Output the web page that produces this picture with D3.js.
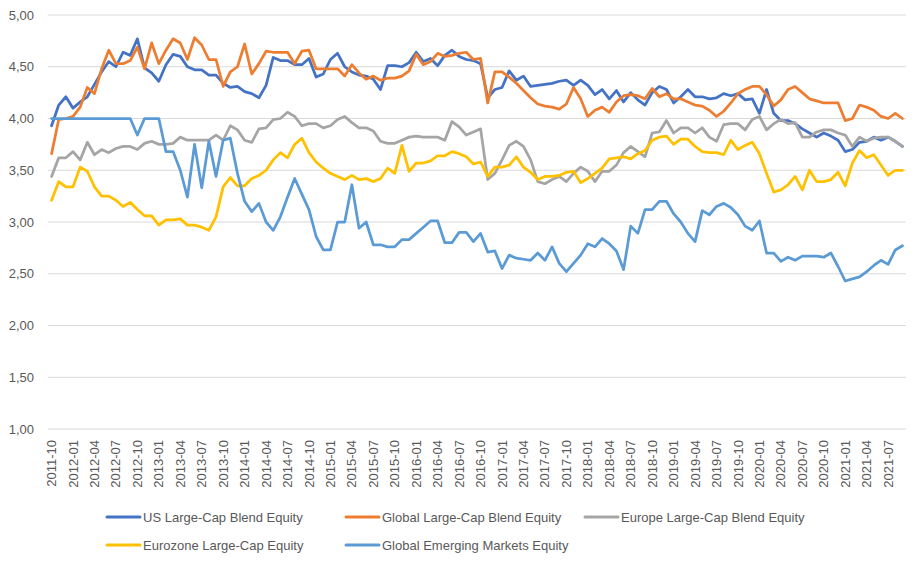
<!DOCTYPE html>
<html>
<head>
<meta charset="utf-8">
<script src="https://cdn.jsdelivr.net/npm/d3@7"></script>
<style>
  body { margin: 0; background: #fff; }
  text { font-family: "Liberation Sans", Arial, sans-serif; fill: #595959; }
</style>
</head>
<body>
<div id="chart"></div>
<script>
// monthly categories, 2011-10 .. 2021-09
const months = d3.utcMonth.range(new Date(Date.UTC(2011, 9, 1)), new Date(Date.UTC(2021, 9, 1)))
  .map(d3.utcFormat("%Y-%m"));

const yTicks = [1, 1.5, 2, 2.5, 3, 3.5, 4, 4.5, 5];

const seriesNames = [
  "US Large-Cap Blend Equity",
  "Global Large-Cap Blend Equity",
  "Europe Large-Cap Blend Equity",
  "Eurozone Large-Cap Equity",
  "Global Emerging Markets Equity"
];
const seriesColors = ["#4472C4", "#ED7D31", "#A5A5A5", "#FFC000", "#5B9BD5"];

const usBlend = [
  3.93, 4.13, 4.21, 4.10, 4.16, 4.21, 4.33, 4.45, 4.55, 4.50,
  4.64, 4.61, 4.77, 4.49, 4.44, 4.36, 4.52, 4.62, 4.60, 4.50,
  4.47, 4.47, 4.42, 4.42, 4.34, 4.30, 4.31, 4.26, 4.24, 4.20,
  4.32, 4.59, 4.56, 4.56, 4.52, 4.52, 4.58, 4.40, 4.43, 4.57,
  4.63, 4.50, 4.45, 4.42, 4.41, 4.38, 4.28, 4.51, 4.51, 4.50,
  4.54, 4.64, 4.55, 4.58, 4.51, 4.61, 4.66, 4.60, 4.57, 4.56,
  4.53, 4.20, 4.28, 4.30, 4.46, 4.37, 4.41, 4.31, 4.32, 4.33,
  4.34, 4.36, 4.37, 4.32, 4.37, 4.32, 4.23, 4.28, 4.19, 4.27,
  4.16, 4.25, 4.18, 4.13, 4.25, 4.31, 4.28, 4.15, 4.21, 4.28,
  4.21, 4.21, 4.19, 4.20, 4.24, 4.22, 4.24, 4.18, 4.19, 4.05,
  4.28, 4.05, 3.98, 3.98, 3.95, 3.90, 3.86, 3.82, 3.86, 3.83,
  3.79, 3.68, 3.70, 3.77, 3.78, 3.82, 3.79, 3.82, 3.78, 3.73
];

const globalBlend = [
  3.66, 3.99, 4.00, 4.02, 4.11, 4.30, 4.24, 4.48, 4.66, 4.53,
  4.53, 4.56, 4.69, 4.48, 4.73, 4.53, 4.66, 4.77, 4.73, 4.57,
  4.78, 4.71, 4.57, 4.57, 4.31, 4.45, 4.50, 4.72, 4.43, 4.53,
  4.65, 4.64, 4.64, 4.64, 4.53, 4.65, 4.66, 4.48, 4.48, 4.48,
  4.48, 4.41, 4.52, 4.44, 4.38, 4.41, 4.37, 4.39, 4.39, 4.41,
  4.46, 4.62, 4.52, 4.55, 4.63, 4.60, 4.61, 4.63, 4.64, 4.57,
  4.58, 4.15, 4.45, 4.45, 4.40, 4.34, 4.27, 4.20, 4.14, 4.12,
  4.11, 4.09, 4.14, 4.30, 4.19, 4.02, 4.08, 4.11, 4.06, 4.16,
  4.22, 4.23, 4.22, 4.19, 4.29, 4.21, 4.24, 4.19, 4.19, 4.16,
  4.13, 4.12, 4.08, 4.02, 4.07, 4.15, 4.24, 4.28, 4.31, 4.31,
  4.23, 4.12, 4.18, 4.28, 4.31, 4.25, 4.19, 4.17, 4.15, 4.15,
  4.15, 3.98, 4.00, 4.13, 4.11, 4.08, 4.02, 4.00, 4.05, 4.00
];

const europeBlend = [
  3.44, 3.62, 3.62, 3.68, 3.60, 3.77, 3.65, 3.70, 3.67, 3.71,
  3.73, 3.73, 3.70, 3.76, 3.78, 3.75, 3.75, 3.76, 3.82, 3.79,
  3.79, 3.79, 3.79, 3.84, 3.79, 3.93, 3.89, 3.79, 3.77, 3.90,
  3.91, 3.99, 4.00, 4.06, 4.02, 3.93, 3.95, 3.95, 3.91, 3.93,
  3.99, 4.02, 3.96, 3.91, 3.91, 3.88, 3.78, 3.76, 3.76, 3.79,
  3.82, 3.83, 3.82, 3.82, 3.82, 3.79, 3.97, 3.92, 3.84, 3.87,
  3.90, 3.41, 3.47, 3.60, 3.74, 3.78, 3.73, 3.60, 3.39, 3.37,
  3.41, 3.44, 3.39, 3.47, 3.53, 3.49, 3.39, 3.49, 3.49, 3.55,
  3.67, 3.73, 3.68, 3.63, 3.86, 3.87, 3.98, 3.86, 3.91, 3.91,
  3.86, 3.91, 3.82, 3.78, 3.94, 3.95, 3.95, 3.89, 3.99, 4.02,
  3.89, 3.95, 3.99, 3.95, 3.96, 3.82, 3.82, 3.87, 3.89, 3.89,
  3.86, 3.84, 3.73, 3.82, 3.78, 3.81, 3.82, 3.82, 3.78, 3.73
];

const eurozone = [
  3.21, 3.39, 3.34, 3.34, 3.53, 3.49, 3.34, 3.25, 3.25, 3.21,
  3.15, 3.19, 3.12, 3.06, 3.06, 2.97, 3.02, 3.02, 3.03, 2.97,
  2.97, 2.95, 2.92, 3.05, 3.34, 3.43, 3.35, 3.35, 3.42, 3.45,
  3.50, 3.60, 3.67, 3.62, 3.75, 3.81, 3.67, 3.58, 3.52, 3.47,
  3.44, 3.41, 3.45, 3.41, 3.42, 3.39, 3.42, 3.52, 3.47, 3.74,
  3.49, 3.57, 3.57, 3.59, 3.64, 3.64, 3.68, 3.66, 3.63, 3.56,
  3.58, 3.44, 3.53, 3.53, 3.55, 3.63, 3.53, 3.48, 3.41, 3.44,
  3.44, 3.45, 3.48, 3.49, 3.38, 3.42, 3.47, 3.52, 3.61, 3.62,
  3.63, 3.61, 3.66, 3.69, 3.79, 3.82, 3.83, 3.75, 3.80, 3.80,
  3.73, 3.68, 3.67, 3.67, 3.65, 3.79, 3.70, 3.74, 3.77, 3.66,
  3.47, 3.29, 3.31, 3.36, 3.44, 3.31, 3.50, 3.39, 3.39, 3.41,
  3.48, 3.35, 3.57, 3.69, 3.62, 3.65, 3.55, 3.45, 3.50, 3.50
];

const emerging = [
  4.00, 4.00, 4.00, 4.00, 4.00, 4.00, 4.00, 4.00, 4.00, 4.00,
  4.00, 4.00, 3.84, 4.00, 4.00, 4.00, 3.68, 3.68, 3.50, 3.24,
  3.75, 3.33, 3.78, 3.44, 3.79, 3.81, 3.47, 3.20, 3.10, 3.18,
  3.00, 2.92, 3.05, 3.24, 3.42, 3.27, 3.12, 2.86, 2.73, 2.73,
  3.00, 3.00, 3.36, 2.94, 3.00, 2.78, 2.78, 2.76, 2.76, 2.83,
  2.83, 2.89, 2.95, 3.01, 3.01, 2.80, 2.80, 2.90, 2.90, 2.81,
  2.89, 2.71, 2.72, 2.55, 2.68, 2.65, 2.64, 2.63, 2.70, 2.63,
  2.76, 2.60, 2.52, 2.60, 2.68, 2.79, 2.76, 2.84, 2.79, 2.72,
  2.54, 2.96, 2.89, 3.12, 3.12, 3.20, 3.20, 3.08, 3.00, 2.89,
  2.81, 3.11, 3.07, 3.15, 3.18, 3.14, 3.07, 2.96, 2.92, 3.01,
  2.70, 2.70, 2.62, 2.66, 2.63, 2.67, 2.67, 2.67, 2.66, 2.70,
  2.57, 2.43, 2.45, 2.47, 2.52, 2.58, 2.63, 2.59, 2.73, 2.77
];

const seriesValues = [usBlend, globalBlend, europeBlend, eurozone, emerging];

const width = 924, height = 563;
const plot = { left: 48, right: 906, top: 15, bottom: 429 };

const svg = d3.select("#chart")
  .append("svg")
  .attr("width", width)
  .attr("height", height);

const x = d3.scalePoint()
  .domain(months)
  .range([plot.left, plot.right])
  .padding(0.5);

const y = d3.scaleLinear()
  .domain([1, 5])
  .range([plot.bottom, plot.top]);

const fmt = v => d3.format(".2f")(v).replace(".", ",");

// gridlines
svg.append("g")
  .selectAll("line")
  .data(yTicks)
  .join("line")
  .attr("x1", plot.left)
  .attr("x2", plot.right)
  .attr("y1", d => y(d))
  .attr("y2", d => y(d))
  .attr("stroke", "#d9d9d9")
  .attr("stroke-width", 1);

// y labels
svg.append("g")
  .selectAll("text")
  .data(yTicks)
  .join("text")
  .attr("x", 34)
  .attr("y", d => y(d))
  .attr("dy", "0.35em")
  .attr("text-anchor", "end")
  .attr("font-size", "13px")
  .text(fmt);

// x labels, every third month, rotated
const xLabels = months.filter((m, i) => i % 3 === 0);
svg.append("g")
  .selectAll("text")
  .data(xLabels)
  .join("text")
  .attr("transform", d => `translate(${x(d)}, 440) rotate(-90)`)
  .attr("dy", "0.35em")
  .attr("text-anchor", "end")
  .attr("font-size", "13px")
  .text(d => d);

// lines, later series drawn on top
const line = d3.line()
  .x((d, i) => x(months[i]))
  .y(d => y(d));

svg.append("g")
  .selectAll("path")
  .data(seriesValues)
  .join("path")
  .attr("d", d => line(d))
  .attr("fill", "none")
  .attr("stroke", (d, i) => seriesColors[i])
  .attr("stroke-width", 2.75)
  .attr("stroke-linejoin", "round")
  .attr("stroke-linecap", "round");

// legend
const legendPos = [
  { x: 107, y: 517 }, { x: 346, y: 517 }, { x: 585, y: 517 },
  { x: 107, y: 545 }, { x: 346, y: 545 }
];
const legend = svg.append("g")
  .selectAll("g")
  .data(seriesNames)
  .join("g")
  .attr("transform", (d, i) => `translate(${legendPos[i].x}, ${legendPos[i].y})`);

legend.append("line")
  .attr("x1", 0)
  .attr("x2", 33)
  .attr("stroke", (d, i) => seriesColors[i])
  .attr("stroke-width", 3)
  .attr("stroke-linecap", "round");

legend.append("text")
  .attr("x", 36)
  .attr("dy", "0.35em")
  .attr("font-size", "13px")
  .text(d => d);
</script>
</body>
</html>
